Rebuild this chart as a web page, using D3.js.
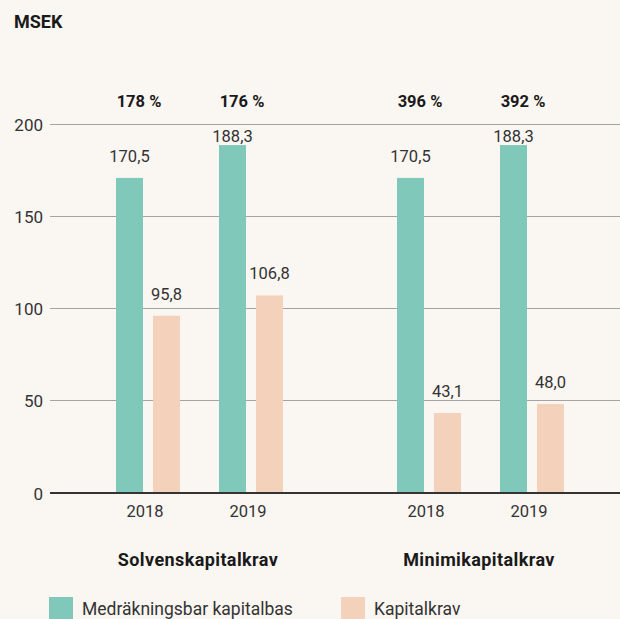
<!DOCTYPE html>
<html>
<head>
<meta charset="utf-8">
<script src="https://cdn.jsdelivr.net/npm/d3@7"></script>
<style>
  html, body { margin: 0; padding: 0; background: #faf6f2; }
  svg { display: block; }
  text { font-family: Roboto, "Noto Sans", sans-serif; }
</style>
</head>
<body>
<svg id="chart" width="620" height="619"></svg>
<script>
// ---- data ----
const groups = ["Solvenskapitalkrav", "Minimikapitalkrav"];
const years = ["2018", "2019"];
const seriesNames = ["Medräkningsbar kapitalbas", "Kapitalkrav"];
// values per group, per year
const kapitalbas = [[170.5, 188.3], [170.5, 188.3]];
const kapitalkrav = [[95.8, 106.8], [43.1, 48.0]];
const ratioLabels = [["178 %", "176 %"], ["396 %", "392 %"]];
const yTicks = [0, 50, 100, 150, 200];
const unitLabel = "MSEK";
const colors = ["#80c8ba", "#f3d1ba"];

// ---- scales ----
const svg = d3.select("#chart");
const W = 620;
const y = d3.scaleLinear().domain([0, 200]).range([492.5, 123.5]);
const xGroup = d3.scaleBand().domain(groups).range([116, 603]).paddingInner(75 / 281).paddingOuter(0);
const xYear = d3.scaleBand().domain(years).range([0, 206]).padding(0);
const xSeries = d3.scaleBand().domain(seriesNames).range([0, 64]).paddingInner(10 / 37).paddingOuter(0);

const fmt = v => d3.format(".1f")(v).replace(".", ",");

// unit label
svg.append("text").attr("x", 14).attr("y", 28)
  .attr("font-size", 18).attr("font-weight", 700).attr("fill", "#1a1a1a")
  .text(unitLabel);

// gridlines + tick labels
const gridG = svg.append("g");
yTicks.filter(t => t !== 0).forEach(t => {
  gridG.append("line")
    .attr("x1", 50).attr("x2", W)
    .attr("y1", Math.round(y(t)) + 0.5).attr("y2", Math.round(y(t)) + 0.5)
    .attr("stroke", "#a3a3a3").attr("stroke-width", 1.2);
});
const yAxis = d3.axisLeft(y).tickValues(yTicks).tickSize(0).tickPadding(0).tickFormat(d3.format("d"));
const axG = svg.append("g").attr("transform", "translate(43,0)").call(yAxis);
axG.select(".domain").remove();
axG.selectAll("text").attr("font-size", 17).attr("fill", "#333")
  .attr("font-family", "Roboto, sans-serif").attr("dy", 6.5).attr("x", 0);

// bars
const rows = [];
groups.forEach((g, gi) => years.forEach((yr, yi) => {
  rows.push({ g, yr, s: seriesNames[0], v: kapitalbas[gi][yi], c: colors[0] });
  rows.push({ g, yr, s: seriesNames[1], v: kapitalkrav[gi][yi], c: colors[1] });
}));
const bx = d => xGroup(d.g) + xYear(d.yr) + xSeries(d.s);

svg.append("g").selectAll("rect").data(rows).join("rect")
  .attr("x", bx)
  .attr("width", xSeries.bandwidth())
  .attr("y", d => y(d.v))
  .attr("height", d => y(0) - y(d.v))
  .attr("fill", d => d.c);

// value labels
svg.append("g").selectAll("text").data(rows).join("text")
  .attr("x", d => bx(d) + xSeries.bandwidth() / 2)
  .attr("y", d => Math.max(y(d.v) - 16, y(200) + 18.5))
  .attr("text-anchor", "middle")
  .attr("font-size", 16.5).attr("font-weight", 400).attr("fill", "#333")
  .text(d => fmt(d.v));

// baseline
svg.append("line").attr("x1", 50).attr("x2", W)
  .attr("y1", y(0) + 0.5).attr("y2", y(0) + 0.5)
  .attr("stroke", "#333").attr("stroke-width", 2);

// year labels, ratio labels
groups.forEach((g, gi) => {
  years.forEach((yr, yi) => {
    const cx = xGroup(g) + xYear(yr) + 32;
    svg.append("text").attr("x", cx - 3).attr("y", 517)
      .attr("text-anchor", "middle").attr("font-size", 16.5).attr("fill", "#333")
      .text(yr);
    svg.append("text").attr("x", cx - 9).attr("y", 107)
      .attr("text-anchor", "middle").attr("font-size", 16.5).attr("font-weight", 700).attr("fill", "#1a1a1a")
      .text(ratioLabels[gi][yi]);
  });
  svg.append("text").attr("x", xGroup(g) + 82).attr("y", 566)
    .attr("text-anchor", "middle").attr("font-size", 18).attr("font-weight", 700)
    .attr("letter-spacing", 0.4).attr("fill", "#1a1a1a")
    .text(g);
});

// legend
const legendX = [49, 341];
seriesNames.forEach((s, i) => {
  svg.append("rect").attr("x", legendX[i]).attr("y", 597).attr("width", 24).attr("height", 24).attr("fill", colors[i]);
  svg.append("text").attr("x", legendX[i] + 33).attr("y", 615)
    .attr("font-size", 17.5).attr("fill", "#333").text(s);
});
</script>
</body>
</html>
